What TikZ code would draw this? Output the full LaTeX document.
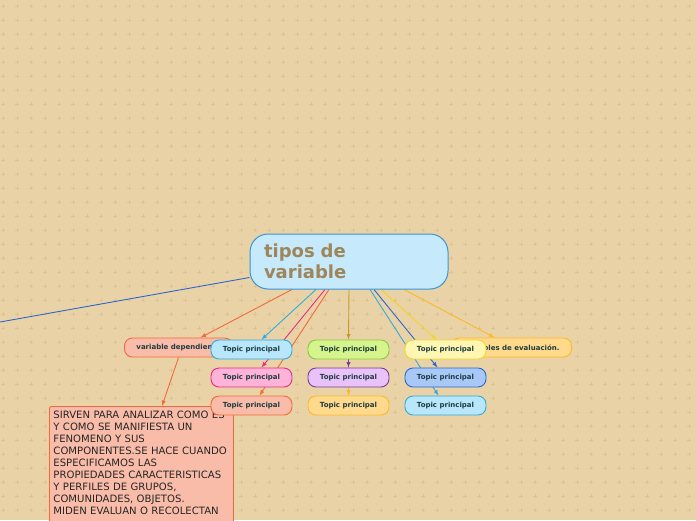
\documentclass[tikz,border=0pt]{standalone}
\usepackage{fontspec}
\setmainfont{DejaVu Sans}
\usepackage{xcolor}
\usetikzlibrary{shapes, arrows, positioning}

\definecolor{fond}{HTML}{E9D3A6}
\definecolor{croix}{HTML}{DCC393}
\definecolor{txt}{HTML}{1E3C40}
\definecolor{brun}{HTML}{9E855A}
\definecolor{racinef}{HTML}{C6EAFB}
\definecolor{racined}{HTML}{3C94D4}
\definecolor{cielf}{HTML}{B8E6FA}
\definecolor{cield}{HTML}{33A9E0}
\definecolor{rosef}{HTML}{FFB3D9}
\definecolor{rosed}{HTML}{E52D87}
\definecolor{saumonf}{HTML}{F9BCA8}
\definecolor{saumond}{HTML}{F26A3C}
\definecolor{vertf}{HTML}{D5F58C}
\definecolor{vertd}{HTML}{8CC63E}
\definecolor{mauvef}{HTML}{E9C2FA}
\definecolor{mauved}{HTML}{7A3E94}
\definecolor{orangef}{HTML}{FFDA8C}
\definecolor{oranged}{HTML}{FBB829}
\definecolor{jaunef}{HTML}{FFF7B1}
\definecolor{jauned}{HTML}{F4D42A}
\definecolor{bleuf}{HTML}{A8C9F7}
\definecolor{bleud}{HTML}{2B66CF}
\definecolor{or}{HTML}{C49A2C}

\pgfdeclarelayer{dessous}
\pgfdeclarelayer{liens}
\pgfsetlayers{dessous,liens,main}

\begin{document}
\begin{tikzpicture}[x=1pt,y=-1pt,>=latex,
    racine/.style={draw=racined, fill=racinef, line width=1pt, rounded corners=18pt,
        minimum width=198pt, minimum height=55pt, inner xsep=14pt, text width=170pt,
        align=left, text=brun, font=\fontsize{18}{21}\selectfont\bfseries},
    topic/.style={draw, line width=0.9pt, rounded corners=8pt, minimum width=81pt,
        minimum height=19pt, inner sep=0pt, text=txt, font=\fontsize{7}{8}\selectfont\bfseries},
    branche/.style={draw, line width=0.9pt, rounded corners=8pt, minimum height=19pt,
        inner xsep=12pt, inner ysep=0pt, text=txt, font=\fontsize{7}{8}\selectfont\bfseries},
    lien/.style={->, line width=0.9pt}]

    % cadre et fond
    \clip (0,0) rectangle (696,520);
    \begin{pgfonlayer}{dessous}
    \fill[fond] (0,0) rectangle (696,520);
    \foreach \i in {0,...,49}{
        \foreach \j in {0,...,37}{
            \draw[croix, line width=0.5pt] ({\i*14+3},{\j*14+6}) +(-2,0) -- +(2,0) +(0,-2) -- +(0,2);
        }
    }
    \end{pgfonlayer}

    % noeud central
    \node[racine] (centre) at (349,261.5) {tipos de\\variable};
    \coordinate (hors) at (0,322);

    % branches cachees en partie
    \node[branche, fill=saumonf, draw=saumond, anchor=west] (vardep) at (124,347.5) {variable dependiente};
    \node[branche, fill=orangef, draw=oranged, anchor=east] (evaluation) at (572,347.5) {variables de evaluación.};

    % texte descriptif
    \node[draw=saumond, fill=saumonf, line width=0.9pt, rounded corners=2pt, anchor=north west,
        text width=176pt, inner xsep=4pt, inner ysep=5pt, align=left,
        font=\fontsize{10.1}{12}\selectfont, text=black!85] (texte) at (49,406)
        {SIRVEN PARA ANALIZAR COMO ES\\Y COMO SE MANIFIESTA UN\\FENOMENO Y SUS\\COMPONENTES.SE HACE CUANDO\\ESPECIFICAMOS LAS\\PROPIEDADES CARACTERISTICAS\\Y PERFILES DE GRUPOS,\\COMUNIDADES, OBJETOS.\\MIDEN EVALUAN O RECOLECTAN\\\rule{0pt}{20pt}};

    % les neuf topics
    \foreach \n/\x/\y/\f/\d in {11/251.5/349.5/cielf/cield, 12/251.5/377.5/rosef/rosed,
        13/251.5/405.5/saumonf/saumond, 21/348.5/349.5/vertf/vertd, 22/348.5/377.5/mauvef/mauved,
        23/348.5/405.5/orangef/oranged, 31/445.5/349.5/jaunef/jauned, 32/445.5/377.5/bleuf/bleud,
        33/445.5/405.5/cielf/cield}{
        \node[topic, fill=\f, draw=\d] (t\n) at (\x,\y) {Topic principal};
    }

    % liens
    \begin{pgfonlayer}{liens}
    \draw[bleud, line width=0.9pt] ([yshift=-16pt]centre.west) -- (hors);
    \draw[lien, saumond] ([xshift=-57pt]centre.south) -- ([xshift=22pt]vardep.north);
    \draw[lien, cield] ([xshift=-33pt]centre.south) -- ([xshift=10pt]t11.north);
    \draw[lien, rosed] ([xshift=-24pt]centre.south) -- ([xshift=10pt]t12.north);
    \draw[lien, saumond] ([xshift=-20pt]centre.south) -- ([xshift=8pt]t13.north);
    \draw[lien, or] (centre.south) -- (t21.north);
    \draw[lien, mauved] (t21.south) -- (t22.north);
    \draw[lien, oranged] (t22.south) -- (t23.north);
    \draw[lien, cield] ([xshift=21pt]centre.south) -- ([xshift=-7pt]t33.north);
    \draw[lien, bleud] ([xshift=25pt]centre.south) -- ([xshift=-8pt]t32.north);
    \draw[lien, jauned] ([xshift=32pt]centre.south) -- ([xshift=-9pt]t31.north);
    \draw[lien, oranged] ([xshift=55pt]centre.south) -- ([xshift=-17pt]evaluation.north);
    \draw[lien, saumond] (vardep.south) -- ([xshift=113pt]texte.north west);
    \end{pgfonlayer}
\end{tikzpicture}
\end{document}
